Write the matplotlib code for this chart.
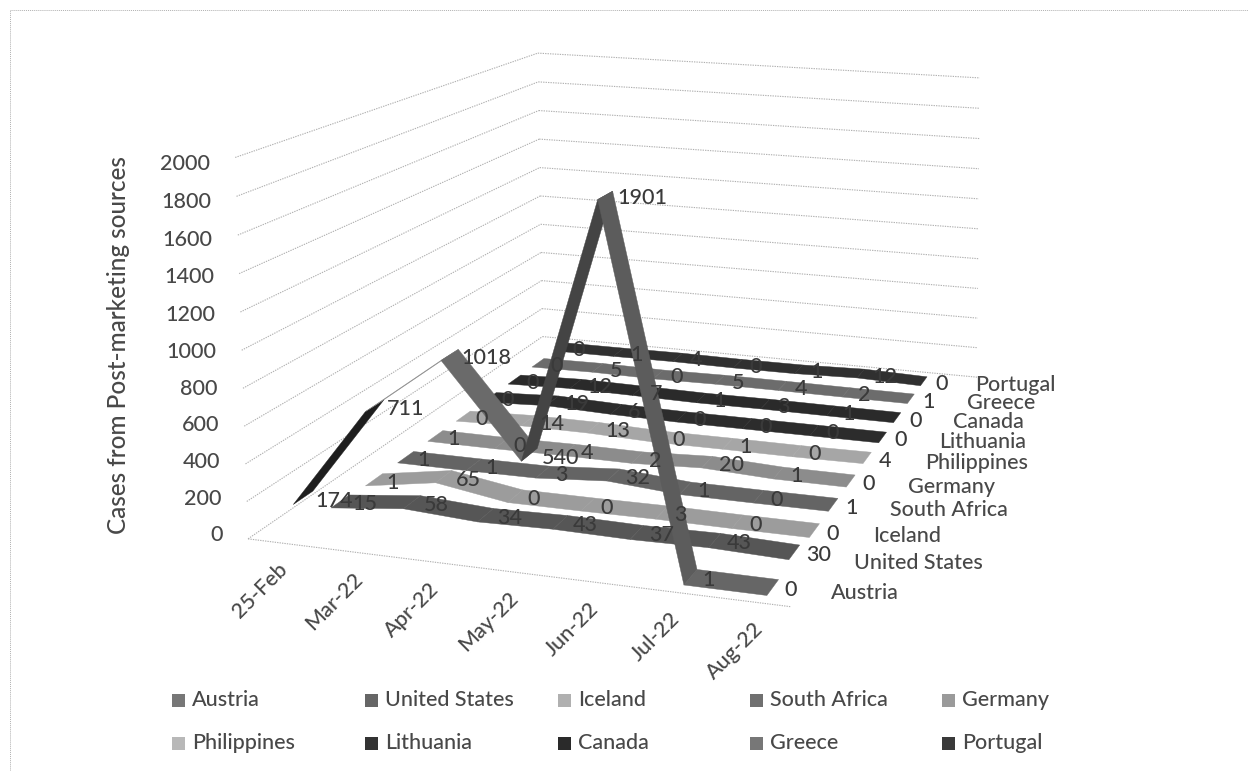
import numpy as np
import matplotlib
matplotlib.use("Agg")
import matplotlib.pyplot as plt
from matplotlib.patches import Rectangle
from matplotlib.transforms import Affine2D
from mpl_toolkits.mplot3d.art3d import Poly3DCollection, Line3DCollection

# ---- data ----
months = ["25-Feb", "Mar-22", "Apr-22", "May-22", "Jun-22", "Jul-22", "Aug-22"]
countries = ["Austria", "United States", "Iceland", "South Africa", "Germany",
             "Philippines", "Lithuania", "Canada", "Greece", "Portugal"]
austria = [174, 711, 1018, 540, 1901, 1, 0]
united_states = [15, 58, 34, 43, 37, 43, 30]
iceland = [1, 65, 0, 0, 3, 0, 0]
south_africa = [1, 1, 3, 32, 1, 0, 1]
germany = [1, 0, 4, 2, 20, 1, 0]
philippines = [0, 14, 13, 0, 1, 0, 4]
lithuania = [0, 19, 6, 0, 0, 0, 0]
canada = [0, 12, 7, 1, 3, 1, 0]
greece = [0, 5, 0, 5, 4, 2, 1]
portugal = [0, 1, 4, 0, 1, 12, 0]
series = [austria, united_states, iceland, south_africa, germany,
          philippines, lithuania, canada, greece, portugal]
value_ticks = list(range(0, 2001, 200))

# ---- styling ----
W, H = 1248, 771
TEXT = "#484848"
GRID = "#b0b0b0"
FONT = "Lato"
LABEL_SIZE = 15.5
ribbon_colors = ["#686868", "#565656", "#9c9c9c", "#646464", "#8c8c8c",
                 "#a6a6a6", "#2c2c2c", "#2a2a2a", "#6c6c6c", "#303030"]
legend_colors = ["#777777", "#666666", "#b0b0b0", "#707070", "#9a9a9a",
                 "#b8b8b8", "#333333", "#2a2a2a", "#777777", "#3a3a3a"]
austria_segment_colors = ["#1e1e1e", "#8c8c8c", "#6a6a6a", "#444444", "#5c5c5c", "#666666"]
RIBBON_HALF_WIDTH = 0.26

plt.rcParams["font.family"] = [FONT, "DejaVu Sans"]
plt.rcParams["font.weight"] = "medium"

fig = plt.figure(figsize=(W / 100, H / 100), dpi=100, facecolor="white")
ax = fig.add_axes([0, 0, 1, 1], projection="3d", computed_zorder=False)
ax.set_axis_off()
ax.apply_aspect = lambda position=None: None
ax.set_position([0, 0, 1, 1])

# ---- camera: a projective matrix fitted to reference points of the chart box ----
XL = -0.5
YF, YB = -0.5, len(countries) - 0.5
ZT = value_ticks[-1]
X_FRONT_END = 6.35   # where the floor's front edge stops
X_BACK_END = 6.75    # where the back wall's lines stop
box_world = np.array([(XL, YF, 0), (XL, YB, 0), (XL, YF, ZT), (XL, YB, ZT), (XL, YF, 1000),
                      (X_FRONT_END, YF, 0), (X_BACK_END, YB, 0), (X_BACK_END, YB, ZT),
                      (6, 0, 0), (6, 9, 0), (4, 0, 1901)], float)
box_pixels = np.array([(248, 535), (541, 337), (233, 158), (541, 53), (241, 352),
                       (797, 607), (977, 378), (977, 75),
                       (768, 586), (925, 383), (607, 198)], float)


def fit_camera(world, pixels):
    scale = np.array([1 / 7, 1 / 10, 1 / 2000, 1.0])
    rows = []
    for (x, y, z), (u, v) in zip(world, pixels):
        p = np.array([x, y, z, 1.0]) * scale
        rows.append(np.r_[p, np.zeros(4), -u * p])
        rows.append(np.r_[np.zeros(4), p, -v * p])
    _, _, vt = np.linalg.svd(np.array(rows))
    cam = vt[-1].reshape(3, 4) * scale
    return cam / cam[2, 3]


CAMERA = fit_camera(box_world, box_pixels)


def to_pixel(x, y, z):
    h = CAMERA @ np.array([x, y, z, 1.0])
    return h[0] / h[2], h[1] / h[2]


def camera_projection():
    # pixels (y down) -> display -> the 2D coordinates used by this axes
    flip = np.array([[1, 0, 0], [0, -1, H], [0, 0, 1]], float)
    to_axes = ax.transData.inverted().get_matrix()
    m = to_axes @ flip @ CAMERA
    return np.array([m[0], m[1], [0, 1e-3, 0, 0], m[2]])


ax.get_proj = camera_projection
px = Affine2D().scale(1, -1).translate(0, H)

# ---- outer frame ----
fig.add_artist(Rectangle((10, 10), W + 20, H + 20, transform=px, fill=False,
                         ec="#b0b0b0", lw=0.7, ls=(0, (1, 1))))

# ---- walls and floor edge ----
grid_segments = [[(XL, YF, 0), (X_FRONT_END, YF, 0)]]
for v in value_ticks:
    grid_segments.append([(XL, YF, v), (XL, YB, v)])
    grid_segments.append([(XL, YB, v), (X_BACK_END, YB, v)])
    u0, v0 = to_pixel(XL, YF, v)
    # tick text sits a little under its line near the top of the wall
    fig.text(u0 - 25, v0 - 4 + 11 * v / ZT, str(v), transform=px, ha="right", va="center",
             color=TEXT, fontsize=LABEL_SIZE)
ax.add_collection3d(Line3DCollection(grid_segments, colors=GRID, linewidths=0.8,
                                     linestyles=[(0, (1.2, 1))], zorder=1))

# ---- ribbons, back to front ----
for s in range(len(series) - 1, -1, -1):
    vals = series[s]
    quads = []
    for m in range(len(months) - 1):
        quads.append([(m, s - RIBBON_HALF_WIDTH, vals[m]),
                      (m + 1, s - RIBBON_HALF_WIDTH, vals[m + 1]),
                      (m + 1, s + RIBBON_HALF_WIDTH, vals[m + 1]),
                      (m, s + RIBBON_HALF_WIDTH, vals[m])])
    face = austria_segment_colors if s == 0 else ribbon_colors[s]
    ax.add_collection3d(Poly3DCollection(quads, facecolors=face, edgecolors=face,
                                         linewidths=0.3, zorder=10 + (len(series) - s)))

# ---- value labels ----
for s, vals in enumerate(series):
    for m, val in enumerate(vals):
        u0, v0 = to_pixel(m, s, val)
        fig.text(u0 + 12, v0 + 3, str(val), transform=px, ha="left", va="center",
                 color="#3a3a3a", fontsize=LABEL_SIZE, zorder=5)

# ---- category labels along the front edge ----
for m, label in enumerate(months):
    u0, v0 = to_pixel(m, YF, 0)
    fig.text(u0 - 8, v0 + 16, label, transform=px, rotation=45, rotation_mode="anchor",
             ha="right", va="top", color=TEXT, fontsize=LABEL_SIZE)

# ---- country labels along the right edge ----
country_label_left = [831, 854, 873, 890, 908, 925, 939, 953, 967, 975]
country_label_mid = [593, 563, 536, 510, 487, 463, 442, 422, 403, 385]
for name, u0, v0 in zip(countries, country_label_left, country_label_mid):
    fig.text(u0, v0, name, transform=px, ha="left", va="center", color=TEXT,
             fontsize=LABEL_SIZE)

# ---- value axis title ----
fig.text(118, 345, "Cases from Post-marketing sources", transform=px, rotation=90,
         ha="center", va="center", color=TEXT, fontsize=17.5)

# ---- legend ----
legend_columns = [172, 365, 558, 750, 942]
legend_rows = [700, 743]
for i, name in enumerate(countries):
    u0 = legend_columns[i % 5]
    v0 = legend_rows[i // 5]
    fig.add_artist(Rectangle((u0, v0 - 6), 13, 13, transform=px, fc=legend_colors[i], ec="none"))
    fig.text(u0 + 20, v0, name, transform=px, ha="left", va="center", color=TEXT,
             fontsize=LABEL_SIZE)

fig.savefig("out.png", dpi=100, facecolor="white")
